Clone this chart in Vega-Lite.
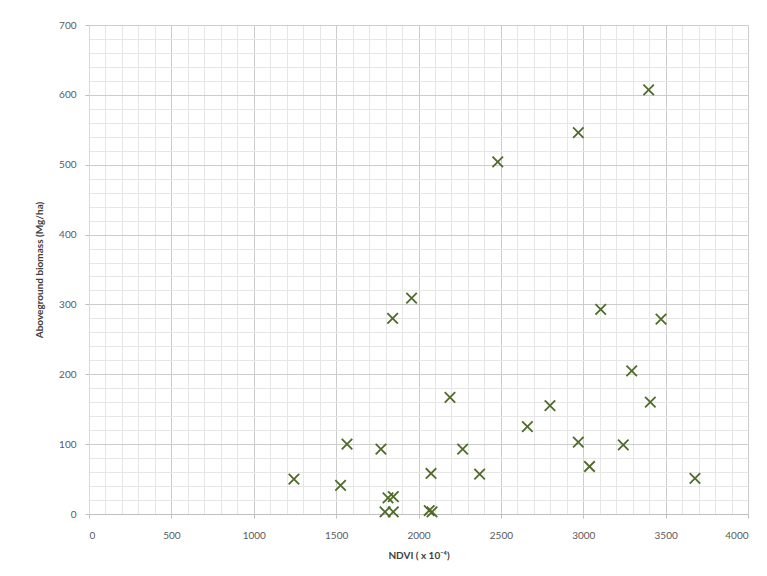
{
  "$schema": "https://vega.github.io/schema/vega-lite/v6.json",
  "autosize": "none",
  "width": 659,
  "height": 489,
  "padding": {"left": 89, "top": 25, "right": 19, "bottom": 62},
  "background": "white",
  "config": {
    "view": {"stroke": null},
    "font": "Lato",
    "axis": {"labelFont": "Lato", "titleFont": "Lato", "labelFontSize": 10, "labelColor": "#595959", "titleFontSize": 10, "titleColor": "#404040", "titleFontWeight": "bold"}
  },
  "data": {"values": [
    {"ndvi": 1244, "biomass": 50},
    {"ndvi": 1527, "biomass": 41},
    {"ndvi": 1566, "biomass": 100},
    {"ndvi": 1772, "biomass": 93},
    {"ndvi": 1797, "biomass": 3},
    {"ndvi": 1847, "biomass": 3},
    {"ndvi": 1815, "biomass": 23},
    {"ndvi": 1847, "biomass": 25},
    {"ndvi": 1843, "biomass": 280},
    {"ndvi": 1958, "biomass": 309},
    {"ndvi": 2065, "biomass": 5},
    {"ndvi": 2082, "biomass": 3},
    {"ndvi": 2076, "biomass": 58},
    {"ndvi": 2191, "biomass": 167},
    {"ndvi": 2268, "biomass": 93},
    {"ndvi": 2371, "biomass": 57},
    {"ndvi": 2481, "biomass": 504},
    {"ndvi": 2661, "biomass": 125},
    {"ndvi": 2798, "biomass": 155},
    {"ndvi": 2970, "biomass": 546},
    {"ndvi": 2970, "biomass": 103},
    {"ndvi": 3038, "biomass": 68},
    {"ndvi": 3106, "biomass": 293},
    {"ndvi": 3243, "biomass": 99},
    {"ndvi": 3294, "biomass": 205},
    {"ndvi": 3397, "biomass": 607},
    {"ndvi": 3407, "biomass": 160},
    {"ndvi": 3472, "biomass": 279},
    {"ndvi": 3678, "biomass": 51}
  ]},
  "resolve": {"axis": {"x": "independent", "y": "independent"}},
  "layer": [
    {
      "mark": {"type": "point", "opacity": 0},
      "encoding": {
        "x": {"field": "ndvi", "type": "quantitative", "scale": {"domain": [0, 4000], "nice": false},
          "axis": {"orient": "bottom", "values": [0,100,200,300,400,500,600,700,800,900,1000,1100,1200,1300,1400,1500,1600,1700,1800,1900,2000,2100,2200,2300,2400,2500,2600,2700,2800,2900,3000,3100,3200,3300,3400,3500,3600,3700,3800,3900,4000],
            "labels": false, "ticks": false, "domain": false, "title": null, "grid": true, "gridColor": "#e6e6e6", "gridWidth": 1}},
        "y": {"field": "biomass", "type": "quantitative", "scale": {"domain": [0, 700], "nice": false},
          "axis": {"orient": "left", "values": [0,20,40,60,80,100,120,140,160,180,200,220,240,260,280,300,320,340,360,380,400,420,440,460,480,500,520,540,560,580,600,620,640,660,680,700],
            "labels": false, "ticks": false, "domain": false, "title": null, "grid": true, "gridColor": "#e6e6e6", "gridWidth": 1}}
      }
    },
    {
      "mark": {"type": "point", "shape": "M-1,-1L1,1M-1,1L1,-1", "size": 110, "filled": false, "stroke": "#4f6b2a", "strokeWidth": 1.8, "opacity": 1},
      "encoding": {
        "x": {"field": "ndvi", "type": "quantitative", "scale": {"domain": [0, 4000], "nice": false},
          "axis": {"orient": "bottom", "values": [0,500,1000,1500,2000,2500,3000,3500,4000], "format": "d",
            "title": "NDVI ( x 10⁻⁴)", "grid": true, "gridColor": "#cccccc", "gridWidth": 1,
            "domainColor": "#bfbfbf", "tickColor": "#bfbfbf", "tickSize": 4, "labelPadding": 12, "titlePadding": 10}},
        "y": {"field": "biomass", "type": "quantitative", "scale": {"domain": [0, 700], "nice": false},
          "axis": {"orient": "left", "values": [0,100,200,300,400,500,600,700], "format": "d",
            "title": "Aboveground biomass (Mg/ha)", "grid": true, "gridColor": "#cccccc", "gridWidth": 1,
            "domainColor": "#d9d9d9", "tickColor": "#bfbfbf", "tickSize": 4, "labelPadding": 9, "titlePadding": 14}}
      }
    }
  ]
}
